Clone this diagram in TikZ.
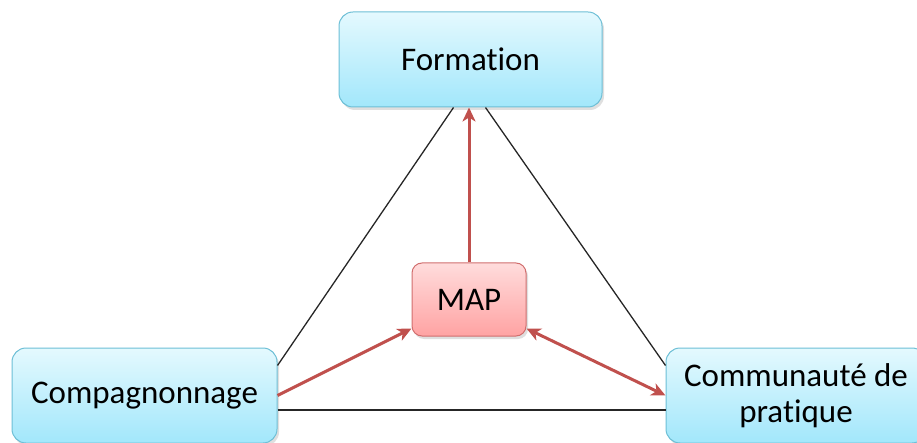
\documentclass[tikz,border=0pt]{standalone}
\usepackage{fontspec}
\setmainfont{Carlito}[Ligatures=NoCommon]
\usetikzlibrary{shadows,arrows.meta}

\definecolor{boxtop}{HTML}{E4F9FE}
\definecolor{boxbot}{HTML}{A2E7FB}
\definecolor{boxline}{HTML}{6DBFD6}
\definecolor{maptop}{HTML}{FFDCDC}
\definecolor{mapbot}{HTML}{FFA3A3}
\definecolor{mapline}{HTML}{D16E6E}
\definecolor{arrowred}{HTML}{C0504D}

\begin{document}
\begin{tikzpicture}
 [x=1pt, y=-1pt,
  blue node/.style={rounded corners=14pt, draw=boxline, line width=1pt,
    top color=boxtop, bottom color=boxbot,
    drop shadow={opacity=0.25, shadow xshift=2pt, shadow yshift=-3pt},
    minimum width=263pt, minimum height=95pt, align=center,
    font=\fontsize{33}{36}\selectfont},
  red node/.style={rounded corners=10pt, draw=mapline, line width=1pt,
    top color=maptop, bottom color=mapbot,
    drop shadow={opacity=0.25, shadow xshift=2pt, shadow yshift=-3pt},
    minimum width=114pt, minimum height=73pt,
    font=\fontsize{33}{36}\selectfont},
  thin line/.style={draw=black!85, line width=1.3pt},
  red arrow/.style={draw=arrowred, line width=3pt,
    arrows={-Stealth[length=14pt, width=13pt, inset=4pt]}}]

\useasboundingbox (0,0) rectangle (917,443);

\node[blue node] (formation) at (470.5,59.5) {Formation};
\node[red node] (map) at (469,299.5) {MAP};
\node[blue node, minimum width=265pt] (compag) at (144.5,395.5) {Compagnonnage};
\node[blue node, minimum width=260pt] (commun) at (796,395.5) {Communauté de\\pratique};

% triangle
\path
  ([xshift=-17pt]formation.south) edge [thin line] ([yshift=30pt]compag.east)
  ([xshift=15pt]formation.south) edge [thin line] ([yshift=30pt]commun.west)
  ([yshift=-14.5pt]compag.east) edge [thin line] ([yshift=-14.5pt]commun.west);

% arrows to MAP
\path
  (map.north) edge [red arrow] (map.north |- formation.south)
  (compag.east) edge [red arrow] ([yshift=8pt]map.south west)
  ([yshift=8pt]map.south east) edge [red arrow, arrows={Stealth[length=14pt, width=13pt, inset=4pt]-Stealth[length=14pt, width=13pt, inset=4pt]}] (commun.west);

\end{tikzpicture}
\end{document}
